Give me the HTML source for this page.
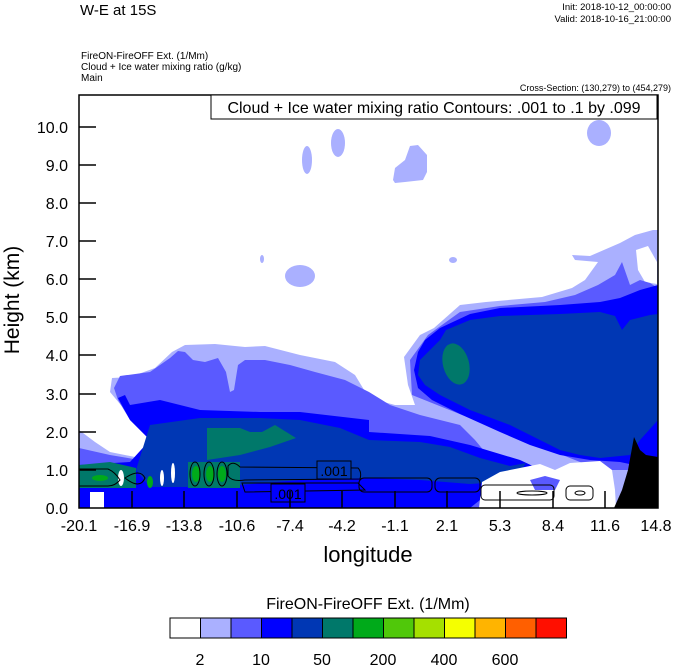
<!DOCTYPE html>
<html><head><meta charset="utf-8"><style>
html,body{margin:0;padding:0;background:#fff;}
svg{display:block;font-family:"Liberation Sans",Arial,sans-serif;}
</style></head><body>
<svg width="674" height="667" viewBox="0 0 674 667" xmlns="http://www.w3.org/2000/svg">
<rect width="674" height="667" fill="#fff"/>
<text x="80" y="15" font-size="15">W-E at 15S</text>
<text x="671" y="10" font-size="9.5" text-anchor="end">Init: 2018-10-12_00:00:00</text>
<text x="671" y="22" font-size="9.5" text-anchor="end">Valid: 2018-10-16_21:00:00</text>
<text x="81" y="59" font-size="10">FireON-FireOFF Ext.   (1/Mm)</text>
<text x="81" y="70" font-size="10">Cloud + Ice water mixing ratio   (g/kg)</text>
<text x="81" y="81" font-size="10">Main</text>
<text x="671" y="91" font-size="9" text-anchor="end">Cross-Section: (130,279) to (454,279)</text>

<defs><clipPath id="pc"><rect x="79" y="95" width="579" height="413"/></clipPath></defs>
<g clip-path="url(#pc)">
<!-- small upper clouds -->
<g fill="#aab0ff">
<ellipse cx="338" cy="143" rx="7" ry="14"/>
<ellipse cx="307" cy="160" rx="5" ry="14"/>
<path d="M393,180 L395,168 L405,160 L410,146 L418,145 L427,155 L427,172 L423,180 L405,182 L395,183Z"/>
<ellipse cx="599" cy="133" rx="12" ry="13"/>
<ellipse cx="300" cy="276" rx="15" ry="11"/>
<ellipse cx="262" cy="259" rx="2" ry="4"/>
<ellipse cx="453" cy="260" rx="4" ry="3"/>
</g>
<!-- lavender big -->
<path fill="#aab0ff" d="M79,430 L95,442 L110,452 L140,458 L160,455 L150,435 L125,410 L110,392 L112,378 L130,377 L155,368 L172,352 L185,345 L215,344 L245,347 L265,346 L300,355 L335,362 L355,375 L369,398 L395,405 L415,405 L408,385 L404,357 L420,335 L434,328 L460,305 L486,302 L542,297 L572,288 L585,280 L598,262 L575,260 L572,255 L590,256 L620,243 L635,235 L653,230 L658,230 L658,508 L79,508Z"/>
<path fill="#fff" d="M636,250 L648,246 L657,262 L657,284 L645,282 L638,270Z"/>
<!-- medium blue left system -->
<path fill="#5a5aff" d="M79,448 L79,508 L500,508 L500,470 L475,440 L460,425 L420,415 L390,405 L369,392 L345,380 L315,372 L290,365 L265,360 L245,360 L238,365 L234,390 L230,392 L226,372 L218,358 L205,362 L193,360 L185,352 L178,351 L170,358 L150,372 L120,376 L114,388 L118,400 L130,420 L150,440 L165,455 L140,460 L110,455Z"/>
<!-- medium blue right system -->
<path fill="#5a5aff" d="M412,395 L410,360 L428,335 L460,312 L500,306 L545,302 L575,295 L598,285 L615,275 L622,262 L630,285 L640,280 L650,283 L658,288 L658,470 L600,470 Z"/>
<!-- blue -->
<path fill="#0000ff" d="M118,398 L125,395 L130,405 L160,400 L200,410 L260,412 L300,412 L369,420 L369,432 L430,436 L470,445 L520,460 L552,475 L540,492 L480,500 L470,508 L79,508 L79,465 L130,462 L150,440 L130,420Z"/>
<path fill="#0000ff" d="M425,340 L440,328 L470,314 L500,308 L560,305 L600,302 L620,298 L640,290 L658,285 L658,470 L620,462 L590,460 L560,455 L530,445 L500,432 L460,414 L432,400 L418,388 L414,370 L418,352Z"/>
<!-- dark blue -->
<path fill="#0037b4" d="M446,330 L470,320 L500,316 L560,314 L600,312 L615,316 L622,330 L630,320 L650,315 L658,314 L658,420 L640,440 L630,455 L600,458 L580,455 L560,450 L540,440 L510,425 L470,410 L440,395 L425,385 L418,375 L420,360 L440,340Z"/>
<path fill="#0037b4" d="M150,425 L200,418 L260,418 L300,420 L340,428 L369,440 L420,442 L450,447 L480,458 L510,466 L526,463 L518,475 L500,482 L470,484 L420,480 L369,478 L300,480 L240,485 L190,487 L150,487 L136,470Z"/>
<!-- white patches -->
<path fill="#fff" d="M479,508 L482,482 L500,472 L540,464 L555,470 L570,463 L600,461 L612,470 L615,490 L616,508Z"/>
<path fill="#fff" d="M79,330 L79,428 L92,437 L110,444 L135,450 L140,444 L125,432 L110,420 L105,405 L108,390 L105,380 L100,360 L90,340Z"/>
<rect x="90" y="492" width="14" height="16" fill="#fff"/>
<path fill="#5a5aff" d="M530,480 L545,476 L560,480 L555,490 L535,490Z"/>
<!-- teal -->
<ellipse cx="456" cy="364" rx="13" ry="21" transform="rotate(-15 456 364)" fill="#00786a"/>
<path fill="#00786a" d="M207,428 L240,428 L250,432 L262,432 L275,425 L296,438 L270,447 L240,455 L207,460Z"/>
<path fill="#00786a" d="M79,465 L110,462 L136,468 L136,488 L79,488Z"/>
<path fill="#00786a" d="M188,462 L240,462 L240,488 L188,488Z"/>
<g fill="#00aa1a">
<ellipse cx="196" cy="474" rx="4" ry="8"/><ellipse cx="210" cy="474" rx="4" ry="8"/><ellipse cx="222" cy="474" rx="4" ry="8"/>
<ellipse cx="100" cy="478" rx="8" ry="3"/><ellipse cx="150" cy="482" rx="3" ry="6"/>
</g>
<g fill="#fff"><ellipse cx="162" cy="478" rx="2" ry="8"/><ellipse cx="173" cy="473" rx="2" ry="10"/><ellipse cx="121" cy="478" rx="3" ry="8"/></g>
<!-- terrain -->
<path fill="#000" d="M614,508 L622,490 L628,470 L634,437 L640,450 L646,455 L658,457 L658,508Z"/>
<!-- contours -->
<g fill="none" stroke="#000" stroke-width="1">
<path d="M79,469 L108,469 Q115,472 120,480 Q115,486 108,486 L79,486"/>
<path d="M125,478 Q140,468 145,478 Q140,490 125,478Z"/>
<ellipse cx="195" cy="474" rx="5" ry="12"/><ellipse cx="209" cy="474" rx="5" ry="12"/><ellipse cx="222" cy="474" rx="5" ry="12"/>
<path d="M228,466 Q233,460 240,467 L358,468 Q362,472 360,479 L245,480 Q232,482 228,476Z"/>
<path d="M242,483 L358,483 L365,490 L245,492 Z"/>
<rect x="359" y="478" width="73" height="14" rx="5"/>
<rect x="435" y="478" width="45" height="14" rx="5"/>
<rect x="481" y="485" width="73" height="15" rx="4"/>
<ellipse cx="532" cy="493" rx="15" ry="2"/>
<rect x="566" y="486" width="27" height="14" rx="4"/>
<ellipse cx="580" cy="493" rx="5" ry="2"/>
</g>
<rect x="317" y="461" width="34" height="18" fill="#0037b4" stroke="#000"/>
<text x="334" y="476" font-size="14" text-anchor="middle">.001</text>
<rect x="271" y="484" width="34" height="18" fill="#0000ff" stroke="#000"/>
<text x="288" y="499" font-size="14" text-anchor="middle">.001</text>
</g>
<!-- axes frame -->
<rect x="79" y="95" width="579" height="413" fill="none" stroke="#000" stroke-width="1.5"/>
<rect x="211" y="95" width="446" height="24" fill="#fff" stroke="#000" stroke-width="1"/>
<text x="434" y="113" font-size="16" text-anchor="middle">Cloud + Ice water mixing ratio Contours: .001 to .1 by .099</text>
<!-- ticks -->
<g stroke="#000" stroke-width="1.5">
<line x1="79" y1="470" x2="96" y2="470"/><line x1="79" y1="432" x2="96" y2="432"/><line x1="79" y1="394" x2="96" y2="394"/>
<line x1="79" y1="355" x2="96" y2="355"/><line x1="79" y1="317" x2="96" y2="317"/><line x1="79" y1="279" x2="96" y2="279"/>
<line x1="79" y1="241" x2="96" y2="241"/><line x1="79" y1="203" x2="96" y2="203"/><line x1="79" y1="165" x2="96" y2="165"/>
<line x1="79" y1="127" x2="96" y2="127"/>
<line x1="132" y1="508" x2="132" y2="491"/><line x1="184" y1="508" x2="184" y2="491"/><line x1="237" y1="508" x2="237" y2="491"/>
<line x1="290" y1="508" x2="290" y2="491"/><line x1="342" y1="508" x2="342" y2="491"/><line x1="395" y1="508" x2="395" y2="491"/>
<line x1="447" y1="508" x2="447" y2="491"/><line x1="500" y1="508" x2="500" y2="491"/><line x1="553" y1="508" x2="553" y2="491"/>
<line x1="605" y1="508" x2="605" y2="491"/>
</g>
<g font-size="16" text-anchor="end">
<text x="68" y="514">0.0</text><text x="68" y="476">1.0</text><text x="68" y="438">2.0</text><text x="68" y="400">3.0</text>
<text x="68" y="361">4.0</text><text x="68" y="323">5.0</text><text x="68" y="285">6.0</text><text x="68" y="247">7.0</text>
<text x="68" y="209">8.0</text><text x="68" y="171">9.0</text><text x="68" y="133">10.0</text>
</g>
<g font-size="16" text-anchor="middle">
<text x="79" y="531">-20.1</text><text x="132" y="531">-16.9</text><text x="184" y="531">-13.8</text><text x="237" y="531">-10.6</text>
<text x="290" y="531">-7.4</text><text x="342" y="531">-4.2</text><text x="395" y="531">-1.1</text><text x="447" y="531">2.1</text>
<text x="500" y="531">5.3</text><text x="553" y="531">8.4</text><text x="605" y="531">11.6</text><text x="656" y="531">14.8</text>
</g>
<text x="368" y="562" font-size="22" text-anchor="middle">longitude</text>
<text x="0" y="0" font-size="21" text-anchor="middle" transform="translate(19,300) rotate(-90)">Height (km)</text>
<!-- colorbar -->
<text x="368" y="609" font-size="16" text-anchor="middle">FireON-FireOFF Ext.  (1/Mm)</text>
<g stroke="#000" stroke-width="1">
<rect x="170" y="618" width="30.5" height="20" fill="#ffffff"/>
<rect x="200.5" y="618" width="30.5" height="20" fill="#aab0ff"/>
<rect x="231" y="618" width="30.5" height="20" fill="#5a5aff"/>
<rect x="261.5" y="618" width="30.5" height="20" fill="#0000ff"/>
<rect x="292" y="618" width="30.5" height="20" fill="#0037b4"/>
<rect x="322.5" y="618" width="30.5" height="20" fill="#00786a"/>
<rect x="353" y="618" width="30.5" height="20" fill="#00aa1a"/>
<rect x="383.5" y="618" width="30.5" height="20" fill="#50c80a"/>
<rect x="414" y="618" width="30.5" height="20" fill="#a5e000"/>
<rect x="444.5" y="618" width="30.5" height="20" fill="#f5ff00"/>
<rect x="475" y="618" width="30.5" height="20" fill="#ffb400"/>
<rect x="505.5" y="618" width="30.5" height="20" fill="#ff5f00"/>
<rect x="536" y="618" width="30.5" height="20" fill="#ff0f00"/>
</g>
<g font-size="16" text-anchor="middle">
<text x="200" y="665">2</text><text x="261" y="665">10</text><text x="322" y="665">50</text>
<text x="383" y="665">200</text><text x="444" y="665">400</text><text x="505" y="665">600</text>
</g>
</svg>
</body></html>
